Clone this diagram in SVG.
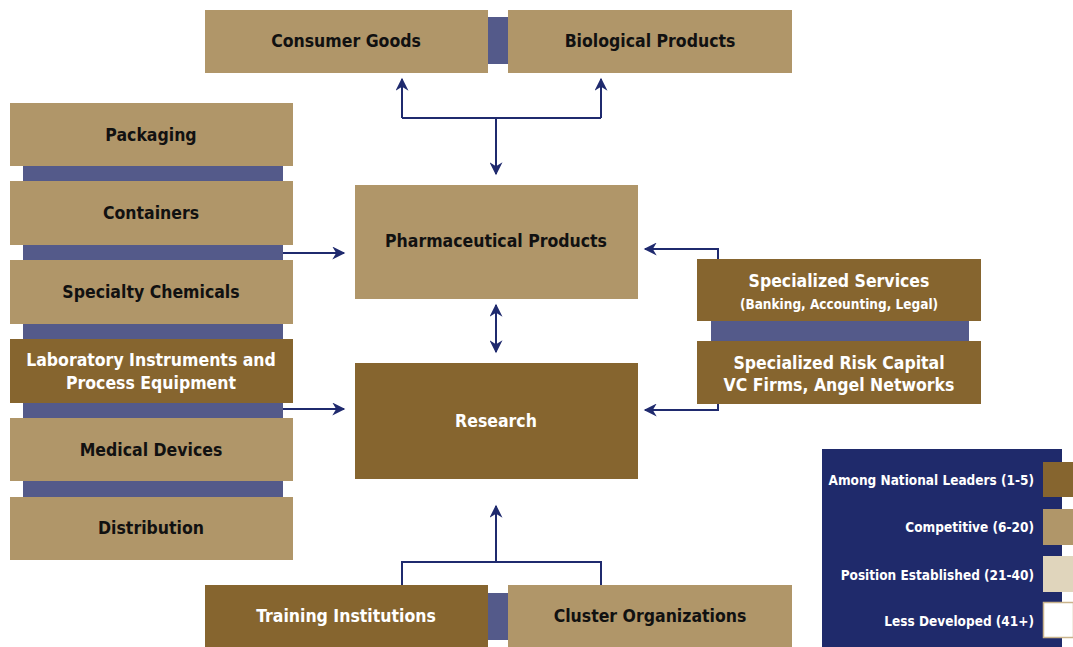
<svg xmlns="http://www.w3.org/2000/svg" width="1073" height="647" viewBox="0 0 1073 647">
<defs>
<style>
.tan{fill:#B09669}
.dark{fill:#86652F}
.bar{fill:#545A8A}
.t{font-family:"DejaVu Sans Condensed","DejaVu Sans",sans-serif;font-stretch:condensed;font-size:17.5px;font-weight:bold;text-anchor:middle;fill:#111}
.w{fill:#fff}
.s{font-size:13.5px}
.lg{font-family:"DejaVu Sans Condensed","DejaVu Sans",sans-serif;font-stretch:condensed;font-size:13.5px;font-weight:bold;text-anchor:end;fill:#fff}
.c{fill:none;stroke:#1F2A6E;stroke-width:2}
</style>
<marker id="ah" viewBox="0 0 10 10" refX="9" refY="5" markerWidth="14" markerHeight="13" orient="auto-start-reverse" markerUnits="userSpaceOnUse">
<path d="M0,0 L10,5 L0,10 L3,5 Z" fill="#1F2A6E"/>
</marker>
</defs>
<rect width="1073" height="647" fill="#fff"/>

<g id="bars">
<rect class="bar" x="488" y="17" width="20" height="47"/>
<rect class="bar" x="23" y="166" width="260" height="15"/>
<rect class="bar" x="23" y="245" width="260" height="15"/>
<rect class="bar" x="23" y="324" width="260" height="15"/>
<rect class="bar" x="23" y="403" width="260" height="15"/>
<rect class="bar" x="23" y="481" width="260" height="16"/>
<rect class="bar" x="711" y="321" width="258" height="20"/>
<rect class="bar" x="488" y="593" width="20" height="47"/>
</g>

<g id="consumer-goods"><rect class="tan" x="205" y="10" width="283" height="63"/><text class="t" x="346" y="47">Consumer Goods</text></g>
<g id="biological-products"><rect class="tan" x="508" y="10" width="284" height="63"/><text class="t" x="650" y="47">Biological Products</text></g>

<g id="packaging"><rect class="tan" x="10" y="103" width="283" height="63"/><text class="t" x="151" y="141">Packaging</text></g>
<g id="containers"><rect class="tan" x="10" y="181" width="283" height="64"/><text class="t" x="151" y="219">Containers</text></g>
<g id="specialty-chemicals"><rect class="tan" x="10" y="260" width="283" height="64"/><text class="t" x="151" y="298">Specialty Chemicals</text></g>
<g id="lab-instruments"><rect class="dark" x="10" y="339" width="283" height="64"/><text class="t w" x="151" y="366">Laboratory Instruments and</text><text class="t w" x="151" y="389">Process Equipment</text></g>
<g id="medical-devices"><rect class="tan" x="10" y="418" width="283" height="63"/><text class="t" x="151" y="456">Medical Devices</text></g>
<g id="distribution"><rect class="tan" x="10" y="497" width="283" height="63"/><text class="t" x="151" y="534">Distribution</text></g>

<g id="pharmaceutical-products"><rect class="tan" x="355" y="185" width="283" height="114"/><text class="t" x="496" y="247">Pharmaceutical Products</text></g>
<g id="research"><rect class="dark" x="355" y="363" width="283" height="116"/><text class="t w" x="496" y="427">Research</text></g>

<g id="specialized-services"><rect class="dark" x="697" y="259" width="284" height="62"/><text class="t w" x="839" y="287">Specialized Services</text><text class="t w s" x="839" y="309">(Banking, Accounting, Legal)</text></g>
<g id="specialized-risk-capital"><rect class="dark" x="697" y="341" width="284" height="63"/><text class="t w" x="839" y="369">Specialized Risk Capital</text><text class="t w" x="839" y="391">VC Firms, Angel Networks</text></g>

<g id="training-institutions"><rect class="dark" x="205" y="585" width="283" height="62"/><text class="t w" x="346" y="622">Training Institutions</text></g>
<g id="cluster-organizations"><rect class="tan" x="508" y="585" width="284" height="62"/><text class="t" x="650" y="622">Cluster Organizations</text></g>

<g id="connectors">
<path class="c" d="M402,118 H601"/>
<path class="c" d="M402,118 V79" marker-end="url(#ah)"/>
<path class="c" d="M601,118 V79" marker-end="url(#ah)"/>
<path class="c" d="M496,118 V174" marker-end="url(#ah)"/>
<path class="c" d="M283,253 H344" marker-end="url(#ah)"/>
<path class="c" d="M283,409 H344" marker-end="url(#ah)"/>
<path class="c" d="M496,305 V352" marker-start="url(#ah)" marker-end="url(#ah)"/>
<path class="c" d="M718,259 V249 H645" marker-end="url(#ah)"/>
<path class="c" d="M718,404 V410 H645" marker-end="url(#ah)"/>
<path class="c" d="M402,585 V562 H601 V585"/>
<path class="c" d="M496,562 V506" marker-end="url(#ah)"/>
</g>

<g id="legend">
<rect x="822" y="449" width="240" height="198" fill="#1F2A6B"/>
<rect x="1043" y="462" width="30" height="35" fill="#86652F"/>
<rect x="1043" y="509" width="30" height="36" fill="#B09669"/>
<rect x="1043" y="556" width="30" height="36" fill="#E0D5BC"/>
<rect x="1043.5" y="602.5" width="30" height="35" fill="#fff" stroke="#C9B48C" stroke-width="1.5"/>
<text class="lg" x="1034" y="485">Among National Leaders (1-5)</text>
<text class="lg" x="1034" y="532">Competitive (6-20)</text>
<text class="lg" x="1034" y="580">Position Established (21-40)</text>
<text class="lg" x="1034" y="626">Less Developed (41+)</text>
</g>
</svg>
